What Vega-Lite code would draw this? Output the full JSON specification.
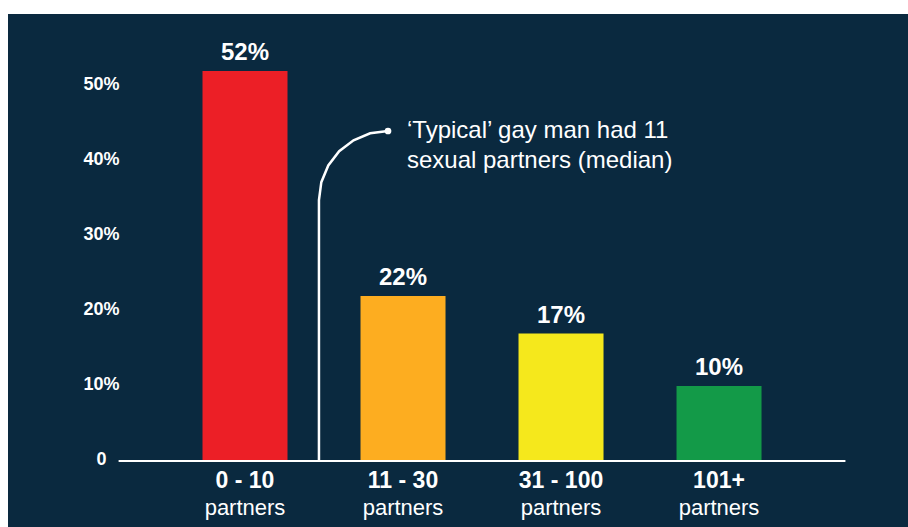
{
  "$schema": "https://vega.github.io/schema/vega-lite/v6.json",
  "width": 900,
  "height": 513,
  "autosize": {"type": "none"},
  "padding": {"left": 8, "top": 14, "right": 0, "bottom": 0},
  "background": "#ffffff",
  "config": {"view": {"fill": "#0a293f", "stroke": null}, "font": "Liberation Sans"},
  "datasets": {
    "bars": [
      {"cat": "0 - 10", "pct": 52, "label": "52%"},
      {"cat": "11 - 30", "pct": 22, "label": "22%"},
      {"cat": "31 - 100", "pct": 17, "label": "17%"},
      {"cat": "101+", "pct": 10, "label": "10%"}
    ],
    "connector": [
      {"step": 1, "px": 1.468, "py": 0},
      {"step": 2, "px": 1.468, "py": 34.8},
      {"step": 3, "px": 1.483, "py": 37.18},
      {"step": 4, "px": 1.527, "py": 39.4},
      {"step": 5, "px": 1.596, "py": 41.31},
      {"step": 6, "px": 1.687, "py": 42.77},
      {"step": 7, "px": 1.792, "py": 43.69},
      {"step": 8, "px": 1.905, "py": 44.0}
    ],
    "note": [
      {"px": 2.025, "py": 44, "text": ["‘Typical’ gay man had 11", "sexual partners (median)"]}
    ]
  },
  "resolve": {"scale": {"x": "independent"}},
  "layer": [
    {
      "data": {"name": "bars"},
      "encoding": {
        "x": {
          "field": "cat",
          "type": "nominal",
          "sort": null,
          "scale": {"paddingInner": 0.304, "paddingOuter": 1, "align": 0.576},
          "axis": null
        }
      },
      "layer": [
        {
          "mark": {"type": "bar", "width": {"band": 0.773}},
          "encoding": {
            "y": {
              "field": "pct",
              "type": "quantitative",
              "scale": {"domain": [-8.8, 59.6], "nice": false, "zero": false},
              "axis": {
                "title": null,
                "values": [0, 10, 20, 30, 40, 50],
                "labelExpr": "datum.value === 0 ? '0' : datum.value + '%'",
                "offset": -111,
                "domain": false,
                "ticks": false,
                "grid": false,
                "labelAlign": "center",
                "labelBaseline": "middle",
                "labelPadding": 18,
                "labelFontSize": 18,
                "labelFontWeight": "bold",
                "labelColor": "#ffffff",
                "labelFont": "Liberation Sans",
                "labelOffset": -2
              }
            },
            "y2": {"datum": 0},
            "color": {
              "field": "cat",
              "type": "nominal",
              "sort": null,
              "scale": {
                "domain": ["0 - 10", "11 - 30", "31 - 100", "101+"],
                "range": ["#ec1f26", "#fdad20", "#f5e81c", "#139a48"]
              },
              "legend": null
            }
          }
        },
        {
          "mark": {"type": "text", "color": "#ffffff", "fontSize": 24, "fontWeight": "bold", "baseline": "alphabetic", "dy": -11},
          "encoding": {
            "y": {"field": "pct", "type": "quantitative"},
            "text": {"field": "label"}
          }
        },
        {
          "mark": {"type": "text", "color": "#ffffff", "fontSize": 23, "fontWeight": "bold", "baseline": "middle", "dy": 20},
          "encoding": {
            "y": {"datum": 0, "type": "quantitative"},
            "text": {"field": "cat"}
          }
        },
        {
          "mark": {"type": "text", "color": "#ffffff", "fontSize": 22, "baseline": "middle", "dy": 47},
          "encoding": {
            "y": {"datum": 0, "type": "quantitative"},
            "text": {"value": "partners"}
          }
        }
      ]
    },
    {
      "layer": [
        {
          "data": {"values": [{}]},
          "mark": {"type": "rule", "color": "#ffffff", "strokeWidth": 2},
          "encoding": {
            "x": {"datum": 0.2, "type": "quantitative", "scale": {"domain": [-0.5, 5.196], "nice": false, "zero": false}, "axis": null},
            "x2": {"datum": 4.8},
            "y": {"datum": 0, "type": "quantitative"}
          }
        },
        {
          "data": {"name": "connector"},
          "mark": {"type": "line", "color": "#ffffff", "strokeWidth": 2.5},
          "encoding": {
            "x": {"field": "px", "type": "quantitative"},
            "y": {"field": "py", "type": "quantitative"},
            "order": {"field": "step", "type": "quantitative"}
          }
        },
        {
          "data": {"name": "connector"},
          "transform": [{"filter": "datum.step === 8"}],
          "mark": {"type": "point", "filled": true, "color": "#ffffff", "size": 45, "opacity": 1},
          "encoding": {
            "x": {"field": "px", "type": "quantitative"},
            "y": {"field": "py", "type": "quantitative"}
          }
        },
        {
          "data": {"name": "note"},
          "mark": {"type": "text", "align": "left", "baseline": "middle", "color": "#ffffff", "fontSize": 24, "lineHeight": 30},
          "encoding": {
            "x": {"field": "px", "type": "quantitative"},
            "y": {"field": "py", "type": "quantitative"},
            "text": {"field": "text"}
          }
        }
      ]
    }
  ]
}
